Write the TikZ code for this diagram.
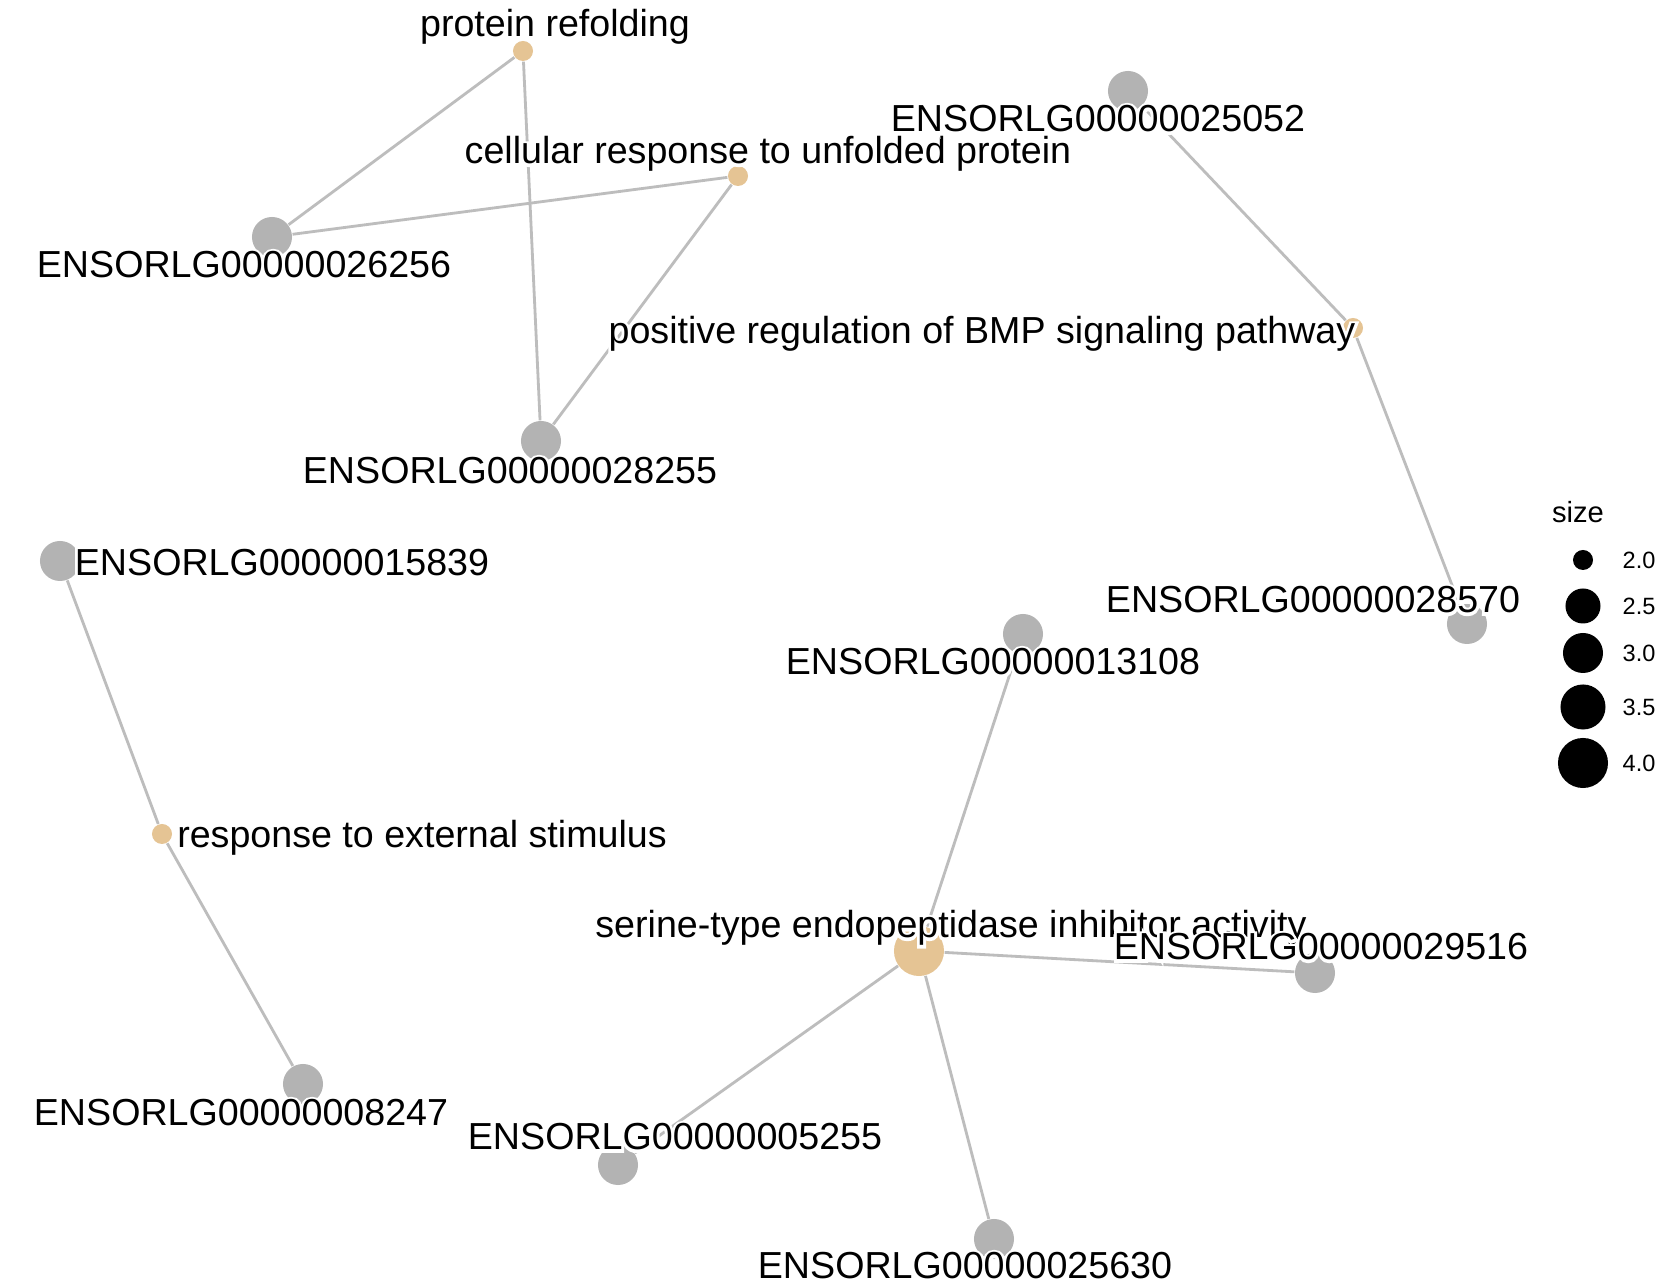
\documentclass[tikz,border=0pt]{standalone}
\usepackage{fontspec}
\setmainfont{Liberation Sans}
\newfontfamily\halofont[FakeBold=15]{Liberation Sans}
\definecolor{genegray}{HTML}{B3B3B3}
\definecolor{termtan}{HTML}{E5C494}
\definecolor{edgegray}{HTML}{BDBDBD}
% white halo behind a label
\newcommand\halo[1]{\makebox[0pt][l]{\color{white}\halofont #1}#1}

\begin{document}
\begin{tikzpicture}[x=0.01cm, y=-0.01cm,
    gene/.style={circle, fill=genegray, inner sep=0, minimum size=0.4cm},
    term/.style={circle, fill=termtan, inner sep=0, minimum size=0.2cm},
    lbl/.style={inner sep=0, anchor=base, font=\fontsize{10.7}{12}\selectfont},
    link/.style={draw=edgegray, line width=0.8pt}]
    \clip (0,0) rectangle (1656,1286);
    \fill[white] (0,0) rectangle (1656,1286);

    % term nodes
    \node[term] (refold) at (523,51) {};
    \node[term] (unfold) at (738,176) {};
    \node[term] (bmp) at (1353,328) {};
    \node[term] (ext) at (162,834) {};
    \node[term, minimum size=0.5cm] (serine) at (919,951) {};

    % gene nodes
    \node[gene] (g26256) at (272,237) {};
    \node[gene] (g28255) at (541,441) {};
    \node[gene] (g25052) at (1128,91) {};
    \node[gene] (g28570) at (1467,624) {};
    \node[gene] (g15839) at (60,561) {};
    \node[gene] (g08247) at (303,1084) {};
    \node[gene] (g13108) at (1023,634) {};
    \node[gene] (g29516) at (1315,973) {};
    \node[gene] (g05255) at (618,1165) {};
    \node[gene] (g25630) at (994,1239) {};

    \draw[link] (refold) edge (g26256) (refold) edge (g28255)
        (unfold) edge (g26256) (unfold) edge (g28255)
        (bmp) edge (g25052) (bmp) edge (g28570)
        (ext) edge (g15839) (ext) edge (g08247)
        (serine) edge (g13108) (serine) edge (g29516)
        (serine) edge (g05255) (serine) edge (g25630);

    % labels
    \node[lbl] (refold-l) at (555,37) {\halo{protein refolding}};
    \node[lbl] (unfold-l) at (768,164) {\halo{cellular response to unfolded protein}};
    \node[lbl] (bmp-l) at (982,344) {\halo{positive regulation of BMP signaling pathway}};
    \node[lbl] (ext-l) at (422,848) {\halo{response to external stimulus}};
    \node[lbl] (serine-l) at (951,938) {\halo{serine-type endopeptidase inhibitor activity}};
    \node[lbl] (g26256-l) at (244,278) {\halo{ENSORLG00000026256}};
    \node[lbl] (g28255-l) at (510,484) {\halo{ENSORLG00000028255}};
    \node[lbl] (g25052-l) at (1098,132) {\halo{ENSORLG00000025052}};
    \node[lbl] (g28570-l) at (1313,613) {\halo{ENSORLG00000028570}};
    \node[lbl] (g15839-l) at (282,576) {\halo{ENSORLG00000015839}};
    \node[lbl] (g08247-l) at (241,1126) {\halo{ENSORLG00000008247}};
    \node[lbl] (g13108-l) at (993,675) {\halo{ENSORLG00000013108}};
    \node[lbl] (g29516-l) at (1321,960) {\halo{ENSORLG00000029516}};
    \node[lbl] (g05255-l) at (675,1150) {\halo{ENSORLG00000005255}};
    \node[lbl] (g25630-l) at (965,1279) {\halo{ENSORLG00000025630}};

    % legend
    \node[font=\fontsize{8.3}{10}\selectfont, inner sep=0] (size-t) at (1578,512) {size};
    \foreach \v/\y/\d in {2.0/560/0.2, 2.5/606/0.35, 3.0/653/0.4, 3.5/707/0.45, 4.0/763/0.5} {
        \node[circle, fill=black, inner sep=0, minimum size=\d cm] (key-\v) at (1583,\y) {};
        \node[font=\fontsize{6.7}{8}\selectfont, anchor=west, inner sep=0] at (1622,\y) {\v};
    }
\end{tikzpicture}
\end{document}
